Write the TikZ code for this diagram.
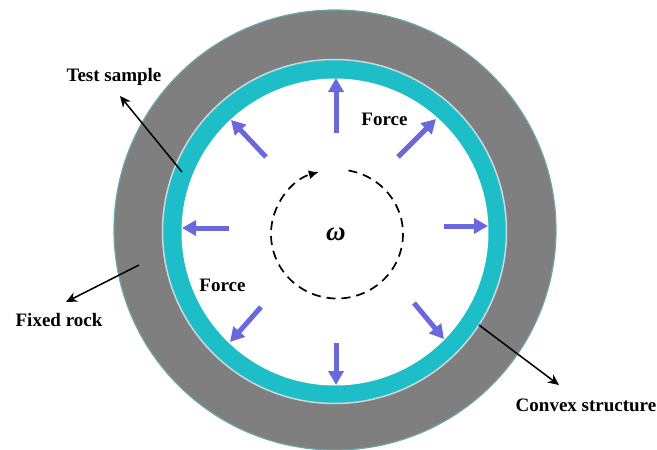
\documentclass[tikz,border=0pt]{standalone}
\usepackage{fontspec}
\setmainfont{Liberation Serif}
\usetikzlibrary{arrows.meta}
\definecolor{rockgray}{RGB}{127,127,127}
\definecolor{rockedge}{RGB}{110,165,170}
\definecolor{sampleteal}{RGB}{30,190,200}
\definecolor{forceblue}{RGB}{105,105,220}
\definecolor{ringedge}{RGB}{200,218,220}
\tikzset{
  x=1pt,y=1pt,
  labeltext/.style={font=\bfseries\fontsize{19}{21}\selectfont,text=black,inner sep=0pt},
  forcearrow/.style={draw=forceblue,line width=5pt,-{Triangle[length=14pt,width=15pt]}},
  leader/.style={draw=black,line width=1.5pt,-{Stealth[length=11pt,width=10pt]}},
}
\begin{document}
\begin{tikzpicture}
\useasboundingbox (0,0) rectangle (657,-450);
\begin{scope}
\clip (0,0) rectangle (657,-450);
\coordinate (c0) at (335,-230);
\fill[rockgray,draw=rockedge,line width=1.2pt] (c0) ellipse[x radius=221,y radius=220];
\end{scope}
\coordinate (c1) at (334.5,-231.5);
\fill[sampleteal,draw=ringedge,line width=1.5pt] (c1) circle (172);
\coordinate (c2) at (335,-232);
\fill[white] (c2) circle (153.5);
% rotation
\coordinate (rc) at (337,-234);
\draw[black,line width=1.7pt,dash pattern=on 9pt off 6pt,-{Latex[length=10pt,width=9pt]}]
  ([shift={(80:66 and 64.5)}]rc) arc[start angle=80,end angle=-254,x radius=66,y radius=64.5];
\node[inner sep=0pt,font=\bfseries\itshape\fontsize{27}{29}\selectfont] (omega) at (336,-234.5) {ω};
% force arrows
\coordinate (a1s) at (336,-133); \coordinate (a1e) at (336,-78);
\coordinate (a2s) at (398,-157); \coordinate (a2e) at (436,-119);
\coordinate (a3s) at (444,-226); \coordinate (a3e) at (488,-226);
\coordinate (a4s) at (414,-303); \coordinate (a4e) at (444,-339);
\coordinate (a5s) at (336,-343); \coordinate (a5e) at (336,-385);
\coordinate (a6s) at (261,-307); \coordinate (a6e) at (230,-342);
\coordinate (a7s) at (229,-228); \coordinate (a7e) at (182,-228);
\coordinate (a8s) at (266,-157); \coordinate (a8e) at (231,-120);
\foreach \i in {1,...,8} \draw[forcearrow] (a\i s) -- (a\i e);
% labels
\node[labeltext] (force1) at (384.5,-119) {Force};
\node[labeltext] (force2) at (222.5,-285.5) {Force};
\node[labeltext] (test) at (114,-76.5) {Test sample};
\node[labeltext] (rock) at (59,-320) {Fixed rock};
\node[labeltext] (convex) at (586,-405) {Convex structure};
% leaders
\coordinate (l1s) at (182,-172); \coordinate (l1e) at (120,-96);
\coordinate (l2s) at (139,-265); \coordinate (l2e) at (66,-302);
\coordinate (l3s) at (479,-325); \coordinate (l3e) at (559,-385);
\foreach \i in {1,2,3} \draw[leader] (l\i s) -- (l\i e);
\end{tikzpicture}
\end{document}
